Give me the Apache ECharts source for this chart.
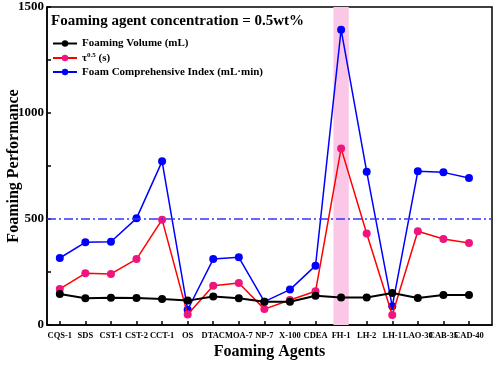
<!DOCTYPE html>
<html>
<head>
<meta charset="utf-8">
<script src="https://cdn.jsdelivr.net/npm/echarts@6/dist/echarts.min.js"></script>
<style>
    html, body { margin: 0; padding: 0; background: #fff; }
    #chart { width: 498px; height: 367px; }
</style>
</head>
<body>
<div id="chart"></div>
<script>
// foaming agents on the x axis
var agents = ['CQS-1', 'SDS', 'CST-1', 'CST-2', 'CCT-1', 'OS', 'DTAC', 'MOA-7', 'NP-7',
    'X-100', 'CDEA', 'FH-1', 'LH-2', 'LH-1', 'LAO-30', 'CAB-35', 'CAD-40'];

// series values
var foamVolume = [146, 126, 129, 127, 123, 115, 134, 126, 110, 110, 138, 130, 130, 151, 127, 141, 141];
var halfLife = [170, 244, 241, 311, 497, 49, 185, 198, 75, 118, 159, 833, 432, 47, 442, 406, 387];
var fci = [316, 390, 393, 503, 772, 72, 311, 319, 110, 167, 280, 1393, 723, 88, 725, 720, 693];

var yTicks = [0, 500, 1000, 1500];
var refLine = 500;
var highlightAgent = 'FH-1';

var font = 'Liberation Serif';

function pairs(values) {
    var out = [];
    for (var i = 0; i < values.length; i++) {
        out.push([i, values[i]]);
    }
    return out;
}

var idx = [];
for (var i = 0; i < agents.length; i++) {
    idx.push(i);
}
var hi = agents.indexOf(highlightAgent);

// main plot box, and a label strip whose category bands sit on the same points
var plotLeft = 47;
var plotRight = 492;
var xMin = -0.5;
var xMax = 16.9;
var step = (plotRight - plotLeft) / (xMax - xMin);
var bandLeft = plotLeft;
var bandRight = plotLeft + step * agents.length;

var chart = echarts.init(document.getElementById('chart'));
chart.setOption({
    animation: false,
    title: {
        text: 'Foaming agent concentration = 0.5wt%',
        left: 46,
        top: 9,
        textStyle: { fontFamily: font, fontWeight: 'bold', fontSize: 15, color: '#000' }
    },
    legend: {
        orient: 'vertical',
        left: 52,
        top: 38,
        padding: 0,
        itemWidth: 24,
        itemHeight: 8,
        itemGap: 3,
        data: ['Foaming Volume (mL)', 'tau', 'Foam Comprehensive Index (mL\u00b7min)'],
        formatter: function (name) {
            if (name === 'tau') {
                return '{t|\u03c4}{s|0.5} {t|(s)}';
            }
            return name;
        },
        textStyle: {
            fontFamily: font, fontWeight: 'bold', fontSize: 11, color: '#000',
            rich: {
                t: { fontFamily: font, fontWeight: 'bold', fontSize: 11, color: '#000' },
                s: { fontFamily: font, fontWeight: 'bold', fontSize: 7, color: '#000', verticalAlign: 'top', padding: [0, 0, 5, 0] }
            }
        }
    },
    grid: [
        {
            left: plotLeft,
            right: 498 - plotRight,
            top: 7,
            bottom: 42,
            outerBoundsMode: 'none',
            show: true,
            borderColor: '#000',
            borderWidth: 1.5
        },
        {
            left: bandLeft,
            right: 498 - bandRight,
            top: 7,
            bottom: 42,
            outerBoundsMode: 'none'
        }
    ],
    xAxis: [
        {
            type: 'value',
            min: xMin,
            max: xMax,
            name: 'Foaming Agents',
            nameLocation: 'middle',
            nameMoveOverlap: false,
            nameGap: 19,
            nameTextStyle: { fontFamily: font, fontWeight: 'bold', fontSize: 16, color: '#000' },
            axisLine: { onZero: false, lineStyle: { color: '#000', width: 1.5 } },
            axisTick: { inside: true, length: 4, customValues: idx, lineStyle: { color: '#000', width: 1.5 } },
            axisLabel: { show: false },
            splitLine: { show: false }
        },
        {
            type: 'category',
            gridIndex: 1,
            data: agents,
            boundaryGap: true,
            axisLine: { show: false },
            axisTick: { show: false },
            axisLabel: {
                interval: 0,
                hideOverlap: false,
                fontFamily: font, fontWeight: 'bold', fontSize: 8.5, color: '#000', margin: 6
            },
            splitLine: { show: false }
        }
    ],
    yAxis: [
        {
            type: 'value',
            min: 0,
            max: 1500,
            interval: 250,
            name: 'Foaming Performance',
            nameLocation: 'middle',
            nameMoveOverlap: false,
            nameGap: 25,
            nameTextStyle: { fontFamily: font, fontWeight: 'bold', fontSize: 16, color: '#000' },
            axisLine: { show: true, onZero: false, lineStyle: { color: '#000', width: 1.5 } },
            axisTick: { inside: true, length: 4, lineStyle: { color: '#000', width: 1.5 } },
            axisLabel: {
                formatter: function (v) { return yTicks.indexOf(v) >= 0 ? String(v) : ''; },
                fontFamily: font, fontWeight: 'bold', fontSize: 13, color: '#000', margin: 3
            },
            splitLine: { show: false }
        },
        {
            type: 'value',
            gridIndex: 1,
            show: false
        }
    ],
    series: [
        {
            name: 'band',
            type: 'line',
            data: [],
            z: 1,
            markArea: {
                silent: true,
                itemStyle: { color: '#fac8e6' },
                data: [[{ xAxis: hi - 0.3 }, { xAxis: hi + 0.3 }]]
            }
        },
        {
            name: 'Foaming Volume (mL)',
            type: 'line',
            data: pairs(foamVolume),
            symbol: 'circle',
            symbolSize: 8,
            z: 4,
            lineStyle: { color: '#000', width: 2 },
            itemStyle: { color: '#000' }
        },
        {
            name: 'tau',
            type: 'line',
            data: pairs(halfLife),
            symbol: 'circle',
            symbolSize: 8,
            z: 3,
            lineStyle: { color: '#ff0000', width: 1.5 },
            itemStyle: { color: '#f0147f' }
        },
        {
            name: 'Foam Comprehensive Index (mL\u00b7min)',
            type: 'line',
            data: pairs(fci),
            symbol: 'circle',
            symbolSize: 8,
            z: 2,
            lineStyle: { color: '#0000ff', width: 1.5 },
            itemStyle: { color: '#0000ff' },
            markLine: {
                silent: true,
                symbol: 'none',
                label: { show: false },
                lineStyle: { color: '#3333ff', width: 1.5, type: [9, 3, 2, 3] },
                data: [{ yAxis: refLine }]
            }
        }
    ]
});
</script>
</body>
</html>
